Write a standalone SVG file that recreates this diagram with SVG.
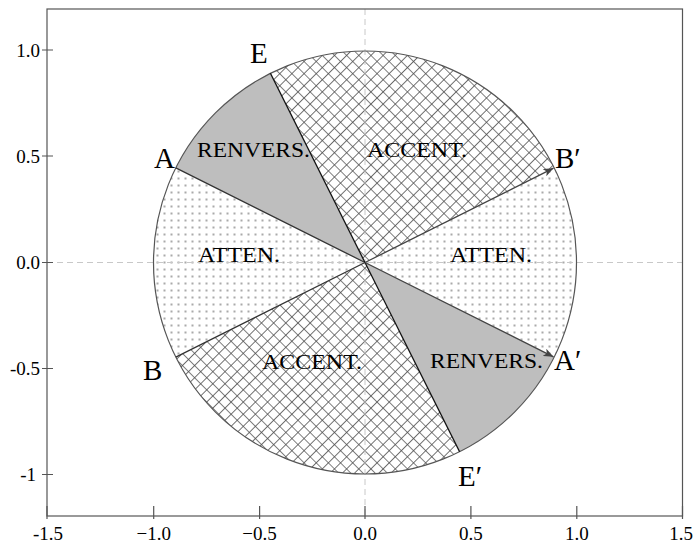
<svg xmlns="http://www.w3.org/2000/svg" width="698" height="545" viewBox="0 0 698 545">
<style>
.lbl{font-family:"Liberation Serif","DejaVu Serif",serif;fill:#000}
.tick{font-size:19px}
.pt{font-size:29px}
.sec{font-size:20px}
.gray{fill:#bebebe}
.xh{fill:url(#cross)}
.dot{fill:url(#dots)}
.rad{stroke:#333;stroke-width:1.3;fill:none}
.radk{stroke:#111;stroke-width:1.3;fill:none}
.arr{stroke:#444;stroke-width:1.3;fill:none;marker-end:url(#ah)}
.dash{stroke:#c8c8c8;stroke-width:1;stroke-dasharray:6 4;fill:none}
.frame{stroke:#555;stroke-width:1.2;fill:none}
</style>
<defs>
<pattern id="cross" patternUnits="userSpaceOnUse" width="8.6" height="8.6" patternTransform="rotate(45)">
<rect width="8.6" height="8.6" fill="#fff"/>
<path d="M0 0H8.6M0 0V8.6" stroke="#505050" stroke-width="1.6"/>
</pattern>
<pattern id="dots" patternUnits="userSpaceOnUse" width="7" height="7">
<rect width="7" height="7" fill="#fff"/>
<rect x="2.5" y="2.5" width="2" height="2" fill="#aaaaaa"/>
</pattern>
<marker id="ah" viewBox="0 0 10 8" refX="10" refY="4" markerWidth="10" markerHeight="8" markerUnits="userSpaceOnUse" orient="auto">
<path d="M0 0L10 4L0 8L2.5 4Z" fill="#444"/>
</marker>
</defs>
<g id="sectors">
<path id="renvers-top" class="gray" d="M365 262.5L175.8 167.9A211.5 211.5 0 0 1 270.4 73.3Z"/>
<path id="accent-top" class="xh" d="M365 262.5L270.4 73.3A211.5 211.5 0 0 1 554.2 167.9Z"/>
<path id="atten-right" class="dot" d="M365 262.5L554.2 167.9A211.5 211.5 0 0 1 554.2 357.1Z"/>
<path id="renvers-bottom" class="gray" d="M365 262.5L554.2 357.1A211.5 211.5 0 0 1 459.6 451.7Z"/>
<path id="accent-bottom" class="xh" d="M365 262.5L459.6 451.7A211.5 211.5 0 0 1 175.8 357.1Z"/>
<path id="atten-left" class="dot" d="M365 262.5L175.8 357.1A211.5 211.5 0 0 1 175.8 167.9Z"/>
</g>
<g id="axes-guides">
<line class="dash" x1="47" y1="262.5" x2="682.5" y2="262.5"/>
<line class="dash" x1="365" y1="9" x2="365" y2="516"/>
</g>
<circle id="circle" cx="365" cy="262.5" r="211.5" fill="none" stroke="#555" stroke-width="1.2"/>
<g id="connectors">
<line class="rad" x1="365" y1="262.5" x2="175.8" y2="167.9"/>
<line class="radk" x1="365" y1="262.5" x2="270.4" y2="73.3"/>
<line class="rad" x1="365" y1="262.5" x2="175.8" y2="357.1"/>
<line class="radk" x1="365" y1="262.5" x2="459.6" y2="451.7"/>
<line class="arr" x1="365" y1="262.5" x2="553.5" y2="168.2"/>
<line class="arr" x1="365" y1="262.5" x2="553.5" y2="356.8"/>
</g>
<g id="sector-labels" class="lbl sec">
<text x="197" y="157" textLength="113" lengthAdjust="spacingAndGlyphs">RENVERS.</text>
<text x="367" y="157" textLength="100" lengthAdjust="spacingAndGlyphs">ACCENT.</text>
<text x="198" y="262" textLength="82" lengthAdjust="spacingAndGlyphs">ATTEN.</text>
<text x="450" y="262" textLength="82" lengthAdjust="spacingAndGlyphs">ATTEN.</text>
<text x="262" y="369" textLength="100" lengthAdjust="spacingAndGlyphs">ACCENT.</text>
<text x="430" y="368" textLength="113" lengthAdjust="spacingAndGlyphs">RENVERS.</text>
</g>
<g id="point-labels" class="lbl pt">
<text x="250" y="63">E</text>
<text x="154" y="168">A</text>
<text x="143" y="380">B</text>
<text x="555" y="168">B′</text>
<text x="554" y="370">A′</text>
<text x="458" y="486">E′</text>
</g>
<g id="frame">
<rect class="frame" x="47" y="9" width="635.5" height="507"/>
<path stroke="#555" stroke-width="1.2" d="M42 50H53M42 156H53M42 262.5H53M42 368.5H53M42 474.5H53M47 506V519M153.7 506V519M259.6 506V519M365 506V519M470.9 506V519M576.8 506V519M682.5 506V519"/>
</g>
<g id="tick-labels" class="lbl tick">
<text x="40" y="57" text-anchor="end">1.0</text>
<text x="40" y="163" text-anchor="end">0.5</text>
<text x="40" y="269" text-anchor="end">0.0</text>
<text x="40" y="375" text-anchor="end">-0.5</text>
<text x="36" y="481" text-anchor="end">-1</text>
<text x="48" y="540" text-anchor="middle">-1.5</text>
<text x="153.7" y="540" text-anchor="middle">−1.0</text>
<text x="259.6" y="540" text-anchor="middle">−0.5</text>
<text x="365" y="540" text-anchor="middle">0.0</text>
<text x="470.9" y="540" text-anchor="middle">0.5</text>
<text x="576.8" y="540" text-anchor="middle">1.0</text>
<text x="681" y="540" text-anchor="middle">1.5</text>
</g>
</svg>
